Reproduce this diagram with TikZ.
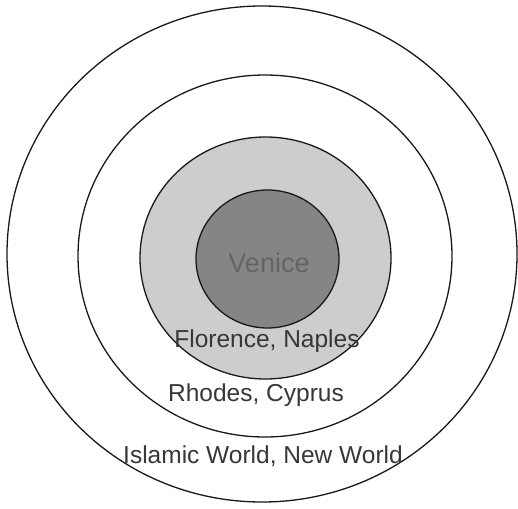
\documentclass[tikz,border=0pt]{standalone}
\usepackage{fontspec}
\setmainfont{Liberation Sans}
\usepackage{xcolor}
\usepackage{tikz}
\definecolor{ln}{RGB}{25,25,25}
\definecolor{txt}{RGB}{55,55,55}
\definecolor{lg}{RGB}{205,205,205}
\definecolor{dg}{RGB}{133,133,133}
\definecolor{vt}{RGB}{100,100,100}

\begin{document}
\begin{tikzpicture}[x=1pt,y=-1pt,
  ring/.style={draw=ln,line width=1.3pt},
  lbl/.style={font=\fontsize{24.5}{28}\selectfont,text=txt,inner sep=0pt}]
  \useasboundingbox (0,0) rectangle (518,508);

  % rings
  \draw[ring] (262,254) ellipse [x radius=255,y radius=248];
  \draw[ring] (265,256) ellipse [x radius=187,y radius=181];
  \draw[ring,fill=lg] (265.5,258) ellipse [x radius=125.5,y radius=121];
  \draw[ring,fill=dg] (267.5,259) ellipse [x radius=71.5,y radius=69];

  % labels
  \node[lbl,text=vt,font=\fontsize{27}{30}\selectfont] (venice) at (269,263) {Venice};
  \node[lbl] (florence) at (267,341) {Florence, Naples};
  \node[lbl] (rhodes) at (256,395) {Rhodes, Cyprus};
  \node[lbl] (islamic) at (263,456) {Islamic World, New World};
\end{tikzpicture}
\end{document}
